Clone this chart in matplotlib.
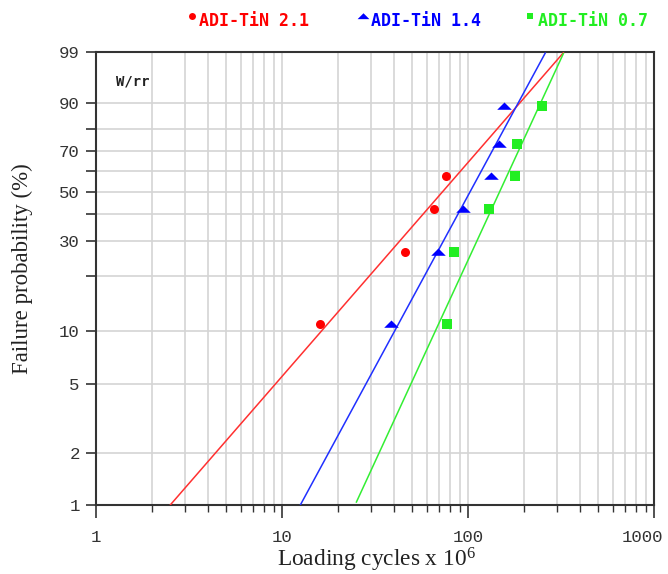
import numpy as np
import matplotlib
matplotlib.use("Agg")
import matplotlib.pyplot as plt
import matplotlib.transforms as mtransforms
from matplotlib.path import Path
from matplotlib.ticker import FixedLocator, NullFormatter, FixedFormatter, LogLocator

plt.rcParams["mathtext.fontset"] = "custom"
plt.rcParams["mathtext.rm"] = "Liberation Serif"
plt.rcParams["mathtext.it"] = "Liberation Serif:italic"

# ---- data ----
series_names = ["ADI-TiN 2.1", "ADI-TiN 1.4", "ADI-TiN 0.7"]
series_colors = ["#ff0000", "#0000ff", "#22ee22"]
line_colors = ["#ff3030", "#2030ff", "#33ee33"]

red_cycles = [15.9, 45.7, 65.4, 75.6]
red_prob = [10.9, 26.6, 42.2, 57.8]
blue_cycles = [38.3, 68.5, 93.3, 132.5, 146.0, 154.7]
blue_prob = [10.9, 26.6, 42.2, 57.8, 73.4, 89.1]
green_cycles = [76.8, 83.5, 129.0, 179.0, 182.0, 248.0]
green_prob = [10.9, 26.6, 42.2, 57.8, 73.4, 89.1]

# Weibull fit parameters (shape beta, scale eta)
fit_beta = [1.256, 2.015, 2.366]
fit_eta = [97.3, 122.6, 172.0]

y_major = [1, 2, 5, 10, 30, 50, 70, 90, 99]
y_minor = [20, 40, 60, 80]
x_major = [1, 10, 100, 1000]
x_labels = ["1", "10", "100", "1000"]

# flattened triangle marker like the reference
flat_tri = Path([(-1.0, -0.45), (1.0, -0.45), (0.0, 0.55), (-1.0, -0.45)],
                [Path.MOVETO, Path.LINETO, Path.LINETO, Path.CLOSEPOLY])
series_markers = ["o", flat_tri, "s"]

# ---- weibull probability scale ----
def fwd(p):
    p = np.clip(np.asarray(p, dtype=float), 1e-6, 100 - 1e-6)
    return np.log(-np.log(1 - p / 100.0))

def inv(w):
    w = np.asarray(w, dtype=float)
    return 100.0 * (1 - np.exp(-np.exp(w)))

W, H = 668, 574
fig = plt.figure(figsize=(W / 100, H / 100), dpi=100)
ax = fig.add_axes([96.3 / W, 1 - 505 / H, 558 / W, 453.3 / H])
ax.set_xscale("log")
ax.set_yscale("function", functions=(fwd, inv))
ax.set_xlim(1, 1000)
ax.set_ylim(1, 99)

grid_color = "#d4d4d4"
ax.set_axisbelow(True)
ax.yaxis.set_major_locator(FixedLocator(y_major))
ax.yaxis.set_major_formatter(FixedFormatter([str(v) for v in y_major]))
ax.yaxis.set_minor_locator(FixedLocator(y_minor))
ax.yaxis.set_minor_formatter(NullFormatter())
ax.xaxis.set_major_locator(FixedLocator(x_major))
ax.xaxis.set_major_formatter(FixedFormatter(x_labels))
ax.xaxis.set_minor_locator(LogLocator(base=10, subs=np.arange(2, 10)))
ax.xaxis.set_minor_formatter(NullFormatter())
ax.grid(True, which="both", color=grid_color, linewidth=1.2)

for s in ax.spines.values():
    s.set_color("#333333")
    s.set_linewidth(1.5)

ax.tick_params(which="major", direction="out", width=1.2, color="#333333",
               labelcolor="#333333")
ax.tick_params(axis="x", which="major", length=9, pad=9)
ax.tick_params(axis="x", which="minor", direction="out", length=5, width=1.0, color="#333333")
ax.tick_params(axis="y", which="major", length=7, pad=5)
ax.tick_params(axis="y", which="minor", direction="out", length=7, width=1.2, color="#333333")
for lab in ax.get_xticklabels() + ax.get_yticklabels():
    lab.set_fontfamily("Liberation Mono")
    lab.set_fontsize(12.5)
# shift the "1000" label left so it stays inside the image, as in the reference
last = ax.get_xticklabels()[-1]
last.set_transform(last.get_transform() +
                   mtransforms.ScaledTranslation(-12 / 100, 0, fig.dpi_scale_trans))

# fit lines
xx = np.logspace(0, 3, 400)
for b, e, c in zip(fit_beta, fit_eta, line_colors):
    F = 100 * (1 - np.exp(-(xx / e) ** b))
    m = (F >= 1) & (F <= 99)
    ax.plot(xx[m], F[m], color=c, linewidth=1.1, zorder=3)

# points
data = [(red_cycles, red_prob), (blue_cycles, blue_prob), (green_cycles, green_prob)]
sizes = [6.5, 10.5, 6.5]
for (cx, cy), col, mk, ms in zip(data, series_colors, series_markers, sizes):
    ax.plot(cx, cy, linestyle="none", marker=mk, color=col, markersize=ms,
            markeredgewidth=0, zorder=4)

fig.text(116 / W, 1 - 82 / H, "W/rr", family="DejaVu Sans Mono", weight="bold",
         fontsize=10, va="center", ha="left", color="#222222")

fig.text(277 / W, 1 - 567 / H, "Loading cycles x 10$^6$", family="Liberation Serif",
         fontsize=16.8, ha="left", va="baseline", color="#222222")
fig.text(22 / W, 1 - 269 / H, "Failure probability (%)", family="Liberation Serif",
         fontsize=16.5, ha="center", va="center", rotation=90, color="#222222")

# legend header
leg_text_x = [199, 371, 538]
leg_mark_x = [192, 363, 530]
for name, col, mk, tx, mxp, ms in zip(series_names, series_colors, series_markers,
                                        leg_text_x, leg_mark_x, [5, 8.5, 5]):
    fig.text(tx / W, 1 - 21 / H, name, color=col, family="DejaVu Sans Mono",
             weight="bold", fontsize=12, va="center", ha="left")
    fig.lines.append(plt.Line2D([mxp / W], [1 - 15.5 / H], marker=mk, color=col,
                                markersize=ms, markeredgewidth=0, linestyle="none",
                                transform=fig.transFigure))

fig.savefig("out.png", dpi=100, facecolor="white")
